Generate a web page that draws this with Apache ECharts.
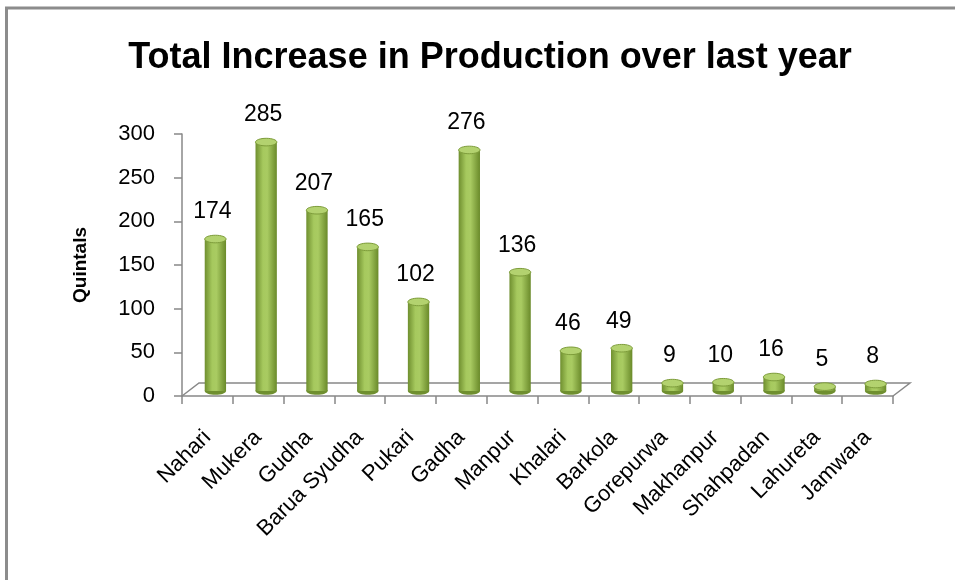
<!DOCTYPE html>
<html>
<head>
<meta charset="utf-8">
<script src="https://cdn.jsdelivr.net/npm/echarts@6/dist/echarts.min.js"></script>
<style>html,body{margin:0;padding:0;background:#fff}#c{width:955px;height:580px}</style>
</head>
<body>
<div id="c"></div>
<script>
var categories = ['Nahari','Mukera','Gudha','Barua Syudha','Pukari','Gadha','Manpur','Khalari','Barkola','Gorepurwa','Makhanpur','Shahpadan','Lahureta','Jamwara'];
var values = [174, 285, 207, 165, 102, 276, 136, 46, 49, 9, 10, 16, 5, 8];
var yTicks = { min: 0, max: 300, interval: 50 };

var FONT = "'Liberation Sans', Arial, sans-serif";
var DX = 8, DY = -5;      // 3D depth offset of bars
var FDX = 17, FDY = -13;  // floor depth

var chart = echarts.init(document.getElementById('c'), null, { renderer: 'canvas' });

var bodyGrad = new echarts.graphic.LinearGradient(0, 0, 1, 0, [
  { offset: 0, color: '#6f8f2f' },
  { offset: 0.35, color: '#a6c95e' },
  { offset: 0.55, color: '#a9cb62' },
  { offset: 1, color: '#6a8a2a' }
]);

function cylinder(params, api) {
  var i = api.value(0), v = api.value(1);
  var top = api.coord([i, v]);
  var base = api.coord([i, 0]);
  var band = api.size([1, 0])[0];
  var w = band * 0.42;
  var cx = top[0] + DX;
  var ty = top[1] + DY;
  var by = base[1] + DY;
  var ry = 3.8;
  return {
    type: 'group',
    children: [
      { type: 'ellipse', shape: { cx: cx, cy: by, rx: w / 2, ry: ry }, style: { fill: '#6f8f2f' } },
      { type: 'rect', shape: { x: cx - w / 2, y: ty, width: w, height: Math.max(by - ty, 0) }, style: { fill: bodyGrad } },
      { type: 'ellipse', shape: { cx: cx, cy: ty, rx: w / 2, ry: ry }, style: { fill: '#b3d26f', stroke: '#7d9c3a', lineWidth: 1 } },
      { type: 'text', style: { text: String(v), x: cx - 3, y: ty - 27, align: 'center', verticalAlign: 'middle', font: '23px ' + FONT, fill: '#000' } }
    ]
  };
}

function floor(params, api) {
  var n = categories.length;
  var band = api.size([1, 0])[0];
  var p0 = api.coord([0, 0]);
  var p1 = api.coord([n - 1, 0]);
  var x0 = p0[0] - band / 2, x1 = p1[0] + band / 2, y0 = p0[1];
  var st = { stroke: '#888888', lineWidth: 1.5, fill: null };
  return {
    type: 'group',
    children: [
      { type: 'polyline', shape: { points: [[x0, y0], [x0 + FDX, y0 + FDY], [x1 + FDX, y0 + FDY], [x1, y0]] }, style: st }
    ]
  };
}

chart.setOption({
  backgroundColor: '#fff',
  animation: false,
  title: {
    text: 'Total Increase in Production over last year',
    left: 485, top: 35, textAlign: 'center',
    textStyle: { fontFamily: FONT, fontWeight: 'bold', fontSize: 36, color: '#000' }
  },
  graphic: [
    { type: 'line', shape: { x1: 6.5, y1: 8, x2: 6.5, y2: 580 }, style: { stroke: '#8c8c8c', lineWidth: 3 } },
    { type: 'line', shape: { x1: 5, y1: 8, x2: 955, y2: 8 }, style: { stroke: '#8c8c8c', lineWidth: 3 } }
  ],
  grid: { left: 182, right: 62, top: 134, bottom: 184, containLabel: false },
  xAxis: {
    type: 'category',
    data: categories,
    axisLine: { lineStyle: { color: '#888888', width: 1.5 } },
    axisTick: { show: true, alignWithLabel: false, length: 8, lineStyle: { color: '#888888', width: 1.5 } },
    axisLabel: { rotate: 45, interval: 0, margin: 38, fontFamily: FONT, fontSize: 22, color: '#000' },
    splitLine: { show: false }
  },
  yAxis: {
    type: 'value',
    min: yTicks.min, max: yTicks.max, interval: yTicks.interval,
    name: 'Quintals', nameLocation: 'middle', nameGap: 92, nameRotate: 90,
    nameTextStyle: { fontFamily: FONT, fontWeight: 'bold', fontSize: 19, color: '#000' },
    axisLine: { show: true, lineStyle: { color: '#888888', width: 1.5 } },
    axisTick: { show: true, length: 8, lineStyle: { color: '#888888', width: 1.5 } },
    axisLabel: { margin: 27, fontFamily: FONT, fontSize: 22, color: '#000' },
    splitLine: { show: false }
  },
  series: [
    { type: 'custom', renderItem: floor, data: [[0, 0]], silent: true, z: 1 },
    { type: 'custom', renderItem: cylinder, data: values.map(function (v, i) { return [i, v]; }), z: 2 }
  ]
});
</script>
</body>
</html>
